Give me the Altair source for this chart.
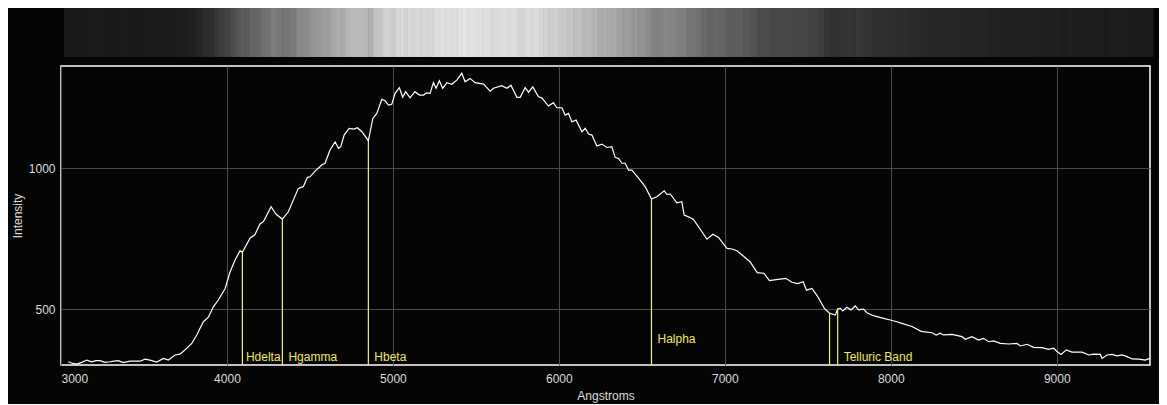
import altair as alt
import pandas as pd

# ---- spectrum samples (Angstrom, intensity) ----
wavelength = [
    3044, 3070, 3095, 3125, 3155, 3185, 3210, 3235, 3265, 3295, 3320, 3345, 3375, 3416, 3446,
    3476, 3506, 3536, 3577, 3617, 3647, 3687, 3717, 3758, 3788, 3818, 3858, 3888, 3918, 3948,
    3989, 4019, 4049, 4079, 4093, 4139, 4169, 4199, 4220, 4266, 4296, 4334, 4370, 4430, 4460,
    4485, 4501, 4531, 4571, 4591, 4621, 4652, 4672, 4686, 4706, 4736, 4766, 4786, 4813, 4852,
    4879, 4903, 4933, 4953, 4973, 4993, 5013, 5039, 5059, 5077, 5103, 5133, 5160, 5184, 5204,
    5224, 5244, 5260, 5280, 5300, 5325, 5355, 5385, 5415, 5435, 5465, 5495, 5546, 5586, 5606,
    5656, 5687, 5711, 5747, 5767, 5797, 5817, 5843, 5877, 5897, 5937, 5967, 5988, 6018, 6038,
    6058, 6078, 6104, 6139, 6159, 6179, 6199, 6229, 6259, 6289, 6319, 6339, 6359, 6380, 6400,
    6420, 6440, 6480, 6520, 6558, 6590, 6635, 6651, 6671, 6711, 6741, 6755, 6781, 6811, 6862,
    6892, 6928, 6962, 7013, 7043, 7073, 7113, 7153, 7195, 7235, 7269, 7309, 7367, 7404, 7439,
    7472, 7492, 7525, 7560, 7600, 7631, 7666, 7680, 7695, 7711, 7735, 7760, 7786, 7806, 7836,
    7856, 7886, 7906, 7957, 7997, 8037, 8062, 8128, 8183, 8248, 8274, 8298, 8318, 8369, 8429,
    8449, 8489, 8529, 8559, 8590, 8620, 8660, 8710, 8761, 8781, 8821, 8861, 8911, 8951, 8982,
    9002, 9026, 9058, 9092, 9153, 9193, 9223, 9263, 9273, 9303, 9333, 9364, 9394, 9424, 9454,
    9494, 9534, 9560,
]
intensity = [
    314, 308, 306, 312, 320, 314, 318, 318, 312, 314, 316, 318, 311, 316, 316,
    316, 323, 320, 313, 326, 320, 338, 341, 362, 379, 409, 456, 472, 509, 533,
    574, 633, 675, 708, 702, 752, 765, 803, 811, 864, 837, 820, 846, 929, 935,
    968, 970, 990, 1012, 1018, 1065, 1094, 1071, 1077, 1118, 1142, 1139, 1144, 1130, 1098,
    1177, 1195, 1245, 1240, 1224, 1227, 1266, 1286, 1252, 1272, 1250, 1272, 1260, 1260, 1268,
    1266, 1304, 1284, 1311, 1284, 1304, 1298, 1313, 1337, 1307, 1319, 1304, 1299, 1274, 1284,
    1293, 1284, 1295, 1252, 1252, 1286, 1270, 1289, 1254, 1250, 1221, 1233, 1215, 1215, 1189,
    1195, 1165, 1171, 1130, 1142, 1122, 1118, 1079, 1086, 1074, 1077, 1039, 1035, 1018, 1018,
    994, 994, 965, 935, 891, 899, 920, 908, 909, 878, 882, 834, 828, 819, 775,
    749, 766, 755, 716, 714, 708, 688, 668, 630, 628, 602, 605, 610, 596, 591,
    598, 568, 574, 545, 503, 486, 480, 500, 504, 494, 507, 498, 512, 498, 501,
    488, 480, 476, 468, 462, 456, 451, 439, 422, 417, 409, 415, 409, 411, 403,
    394, 403, 391, 397, 385, 388, 379, 377, 379, 370, 376, 365, 364, 358, 362,
    350, 340, 356, 348, 348, 338, 341, 340, 326, 338, 340, 335, 338, 332, 324,
    323, 320, 326,
]

# ---- marked lines ----
marker_wavelength = [4093, 4334, 4852, 6558, 7631, 7680]
marker_top = [702, 820, 1098, 891, 486, 504]

label_names = ["Hdelta", "Hgamma", "Hbeta", "Halpha", "Telluric Band"]
label_wavelength = [4093, 4334, 4852, 6558, 7680]

x_ticks = [3000, 4000, 5000, 6000, 7000, 8000, 9000]
y_ticks = [500, 1000]

X_DOMAIN = [3000, 9562]
Y_DOMAIN = [302.5, 1363]

FONT = "Liberation Sans"
TXT = "#dcdcdc"
YEL = "#efe766"

spec = pd.DataFrame({"lam": wavelength, "val": intensity})

mids = [(a + b) / 2 for a, b in zip(wavelength[:-1], wavelength[1:])]
strip = pd.DataFrame({
    "x0": [X_DOMAIN[0]] + mids,
    "x1": mids + [X_DOMAIN[1]],
    "level": [max(v - 300, 0) for v in intensity],
})

markers = pd.DataFrame({"lam": marker_wavelength, "top": marker_top})
labels = pd.DataFrame({"lam": label_wavelength, "name": label_names})

xscale = alt.Scale(domain=X_DOMAIN, nice=False, zero=False)
yscale = alt.Scale(domain=Y_DOMAIN, nice=False, zero=False)

xaxis = alt.Axis(values=x_ticks, title="Angstroms", grid=True, ticks=False,
                 domain=False, labelPadding=8, titlePadding=6, format="d")
yaxis = alt.Axis(values=y_ticks, title="Intensity", grid=True, ticks=False,
                 domain=False, labelPadding=6, titlePadding=4, format="d")


def X(field):
    return alt.X(field, type="quantitative", scale=xscale, axis=xaxis, title="Angstroms")


def Y(field):
    return alt.Y(field, type="quantitative", scale=yscale, axis=yaxis, title="Intensity")


strip_layer = alt.Chart(strip).mark_rect(xOffset=3, x2Offset=3.6, strokeWidth=0).encode(
    x=X("x0"),
    x2="x1:Q",
    y=alt.value(-58),
    y2=alt.value(-9),
    color=alt.Color("level:Q", legend=None,
                    scale=alt.Scale(type="pow", exponent=1.2, domain=[0, 1040],
                                    range=["#181818", "#e8e8e8"], interpolate="rgb")),
)

line_layer = alt.Chart(spec).mark_line(color="#ffffff", strokeWidth=1.2).encode(
    x=X("lam"),
    y=Y("val"),
)

rule_layer = alt.Chart(markers).mark_rule(color="#f6f08a", strokeWidth=1.2).encode(
    x=X("lam"),
    y=Y("top"),
    y2=alt.value(299),
)

low_labels = alt.Chart(labels).transform_filter(
    "datum.name != 'Halpha' && datum.name != 'Hdelta'"
).mark_text(align="left", baseline="alphabetic", dx=6, dy=-4,
            font=FONT, fontSize=12, color=YEL).encode(
    x=X("lam"), y=alt.value(299), text="name:N")

hdelta_label = alt.Chart(labels).transform_filter("datum.name == 'Hdelta'").mark_text(
    align="left", baseline="alphabetic", dx=3.5, dy=-4, font=FONT, fontSize=12, color=YEL
).encode(x=X("lam"), y=alt.value(299), text="name:N")

halpha_label = alt.Chart(labels).transform_filter("datum.name == 'Halpha'").mark_text(
    align="left", baseline="alphabetic", dx=6, dy=-22.5, font=FONT, fontSize=12, color=YEL
).encode(x=X("lam"), y=alt.value(299), text="name:N")

chart = alt.layer(
    line_layer, strip_layer, rule_layer, low_labels, hdelta_label, halpha_label
).properties(
    width=1089, height=299,
    autosize=alt.AutoSizeParams(type="none"),
    padding={"left": 53, "top": 58, "right": 9, "bottom": 39},
    background="#050505",
).configure_view(
    stroke="#ffffff", strokeWidth=1.5, fill="#050505"
).configure_axis(
    gridColor="#4a4a4a", gridWidth=1, labelColor=TXT, titleColor=TXT,
    labelFont=FONT, titleFont=FONT, labelFontSize=12, titleFontSize=12,
    titleFontWeight="normal",
)

chart.save("out.html", embed_options={"renderer": "svg", "actions": False})
